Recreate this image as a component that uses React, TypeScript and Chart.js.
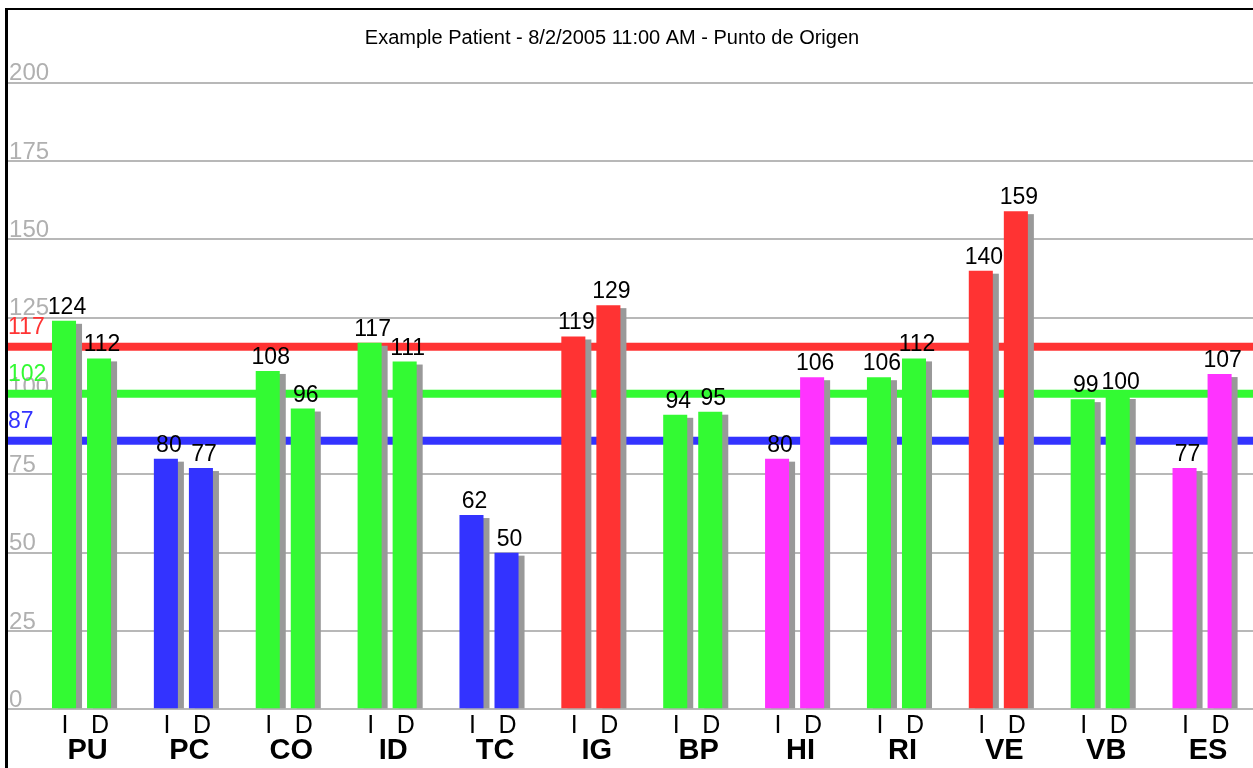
import React, { useEffect, useRef } from "react";
import { Chart, registerables } from "chart.js";

Chart.register(...registerables);

const groups = ["PU", "PC", "CO", "ID", "TC", "IG", "BP", "HI", "RI", "VE", "VB", "ES"];
const valuesI = [124, 80, 108, 117, 62, 119, 94, 80, 106, 140, 99, 77];
const valuesD = [112, 77, 96, 111, 50, 129, 95, 106, 112, 159, 100, 107];
const groupColors = [
  "#33fa33", "#3333ff", "#33fa33", "#33fa33", "#3333ff", "#ff3333",
  "#33fa33", "#ff33ff", "#33fa33", "#ff3333", "#33fa33", "#ff33ff",
];
const subLabels = ["I", "D"];
const refValues = [117, 102, 87];
const refColors = ["#ff3333", "#33fa33", "#3333ff"];
const yTicks = [0, 25, 50, 75, 100, 125, 150, 175, 200];
const title = "Example Patient - 8/2/2005 11:00 AM - Punto de Origen";

const FONT = "'Liberation Sans', Arial, Helvetica, sans-serif";

const overlayPlugin = {
  id: "overlay",
  beforeDatasetsDraw(chart: any) {
    const ctx = chart.ctx;
    const y = chart.scales.y;
    ctx.save();
    // title
    ctx.fillStyle = "#000";
    ctx.font = `20px ${FONT}`;
    ctx.textAlign = "center";
    ctx.textBaseline = "alphabetic";
    ctx.fillText(title, 604, 34);
    // reference lines
    refValues.forEach((v, i) => {
      const py = y.getPixelForValue(v);
      ctx.fillStyle = refColors[i];
      ctx.fillRect(0, py, chart.width, 8);
    });
    // reference labels
    ctx.font = `23px ${FONT}`;
    ctx.textAlign = "left";
    refValues.forEach((v, i) => {
      const py = y.getPixelForValue(v);
      ctx.fillStyle = refColors[i];
      ctx.fillText(String(v), 0, py - 9);
    });
    // shadows
    ctx.fillStyle = "#999999";
    [0, 1].forEach((di) => {
      const meta = chart.getDatasetMeta(di);
      meta.data.forEach((el: any) => {
        const w = el.width;
        const top = el.y + 3;
        ctx.fillRect(el.x - w / 2 + 6, top, w, el.base - top);
      });
    });
    ctx.restore();
  },
  afterDatasetsDraw(chart: any) {
    const ctx = chart.ctx;
    const area = chart.chartArea;
    ctx.save();
    ctx.fillStyle = "#000";
    ctx.textAlign = "center";
    ctx.textBaseline = "alphabetic";
    [0, 1].forEach((di) => {
      const meta = chart.getDatasetMeta(di);
      const ds = chart.data.datasets[di];
      meta.data.forEach((el: any, i: number) => {
        ctx.font = `23px ${FONT}`;
        ctx.fillText(String(ds.data[i]), el.x + 3, el.y - 7);
        ctx.font = `25px ${FONT}`;
        ctx.fillText(subLabels[di], el.x + 1, area.bottom + 24);
      });
    });
    ctx.restore();
  },
};

export default function App() {
  const ref = useRef<HTMLCanvasElement>(null);
  useEffect(() => {
    if (!ref.current) return;
    const chart = new Chart(ref.current, {
      type: "bar",
      data: {
        labels: groups,
        datasets: [
          { label: "I", data: valuesI, backgroundColor: groupColors, borderWidth: 0 },
          { label: "D", data: valuesD, backgroundColor: groupColors, borderWidth: 0 },
        ],
      },
      options: {
        responsive: false,
        animation: false,
        layout: { padding: { top: 72.7 } },
        plugins: {
          legend: { display: false },
          tooltip: { enabled: false },
          title: { display: false },
        },
        datasets: {
          bar: { categoryPercentage: 0.688, barPercentage: 0.686 },
        },
        scales: {
          x: {
            grid: { display: false, drawTicks: false },
            border: { display: false },
            ticks: {
              color: "#000",
              font: { family: FONT, size: 29, weight: "bold" },
              padding: 24,
              labelOffset: 6,
              maxRotation: 0,
              autoSkip: false,
            },
            afterFit: (s: any) => {
              s.height = 58.7;
            },
          },
          y: {
            min: 0,
            max: 200,
            afterBuildTicks: (s: any) => {
              s.ticks = yTicks.map((v) => ({ value: v }));
            },
            grid: {
              color: "#b8b8b8",
              lineWidth: 2,
              drawTicks: true,
              tickLength: 22.6,
              tickColor: "#b8b8b8",
            },
            border: { display: false },
            ticks: {
              mirror: true,
              padding: -21.5,
              labelOffset: -9,
              color: "#b0b0b0",
              font: { family: FONT, size: 24 },
            },
            afterFit: (s: any) => {
              s.width = 22.6;
            },
          },
        },
      },
      plugins: [overlayPlugin],
    });
    return () => chart.destroy();
  }, []);
  return (
    <div
      style={{
        position: "absolute",
        left: 5,
        top: 8,
        width: 1248,
        height: 760,
        borderLeft: "3px solid #000",
        borderTop: "2px solid #000",
        overflow: "hidden",
      }}
    >
      <canvas ref={ref} width={1245} height={758} style={{ display: "block" }} />
    </div>
  );
}
